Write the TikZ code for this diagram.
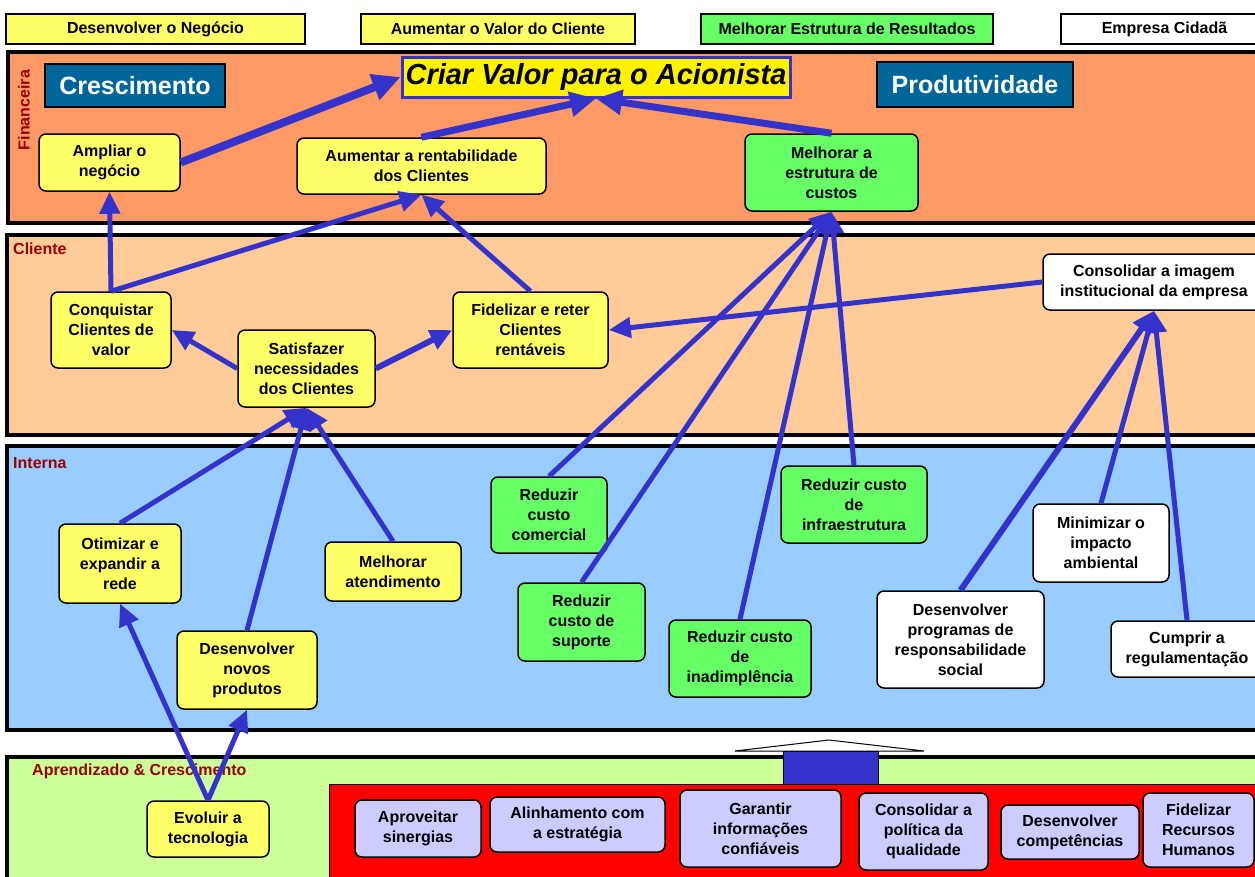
\documentclass[tikz,border=0pt]{standalone}
\usepackage{fontspec}
\setmainfont{Liberation Sans}
\usetikzlibrary{arrows.meta}

\definecolor{orng}{HTML}{FF9966}
\definecolor{peach}{HTML}{FFCC99}
\definecolor{skyb}{HTML}{99CCFF}
\definecolor{lgrn}{HTML}{CCFF99}
\definecolor{ylw}{HTML}{FFFF66}
\definecolor{grn}{HTML}{66FF66}
\definecolor{lav}{HTML}{CCCCFF}
\definecolor{arrblue}{HTML}{3333CC}
\definecolor{petrol}{HTML}{006699}
\definecolor{lblred}{HTML}{990000}

\tikzset{
  box/.style={draw=black, line width=1.5pt, rounded corners=7pt, align=center,
    inner sep=0pt, font=\bfseries\fontsize{16}{20}\selectfont},
  hdr/.style={draw=black, line width=1.5pt, align=center, inner sep=0pt,
    minimum height=30pt, font=\bfseries\fontsize{16}{20}\selectfont},
  sz/.style 2 args={minimum width=#1pt, minimum height=#2pt},
  lane/.style={draw=black, line width=4pt},
  lbl/.style={text=lblred, inner sep=0pt, font=\bfseries\fontsize{16}{18}\selectfont},
  arr/.style={draw=arrblue, line width=5pt, -{Triangle[length=22pt,width=20pt]}},
}

\begin{document}
\begin{tikzpicture}[x=1pt, y=-1pt]
        \useasboundingbox (0,0) rectangle (1255,876);
        \clip (0,0) rectangle (1255,876);

        % Perspective lanes
        \draw[lane, fill=orng] (8,52) rectangle (1265,223);
        \draw[lane, fill=peach] (7,235) rectangle (1265,435);
        \draw[lane, fill=skyb] (7,446) rectangle (1265,730);
        \draw[lane, fill=lgrn] (7,757) rectangle (1265,895);
        \draw[line width=1pt, fill=red] (329,784) rectangle (1265,895);

        \node[lbl, rotate=90] (lfin) at (24,110) {Financeira};
        \node[lbl, anchor=west] (lcli) at (13,249) {Cliente};
        \node[lbl, anchor=west] (lint) at (13,463) {Interna};
        \node[lbl, anchor=west] (lapr) at (32,771) {Aprendizado \& Crescimento};

        % Header boxes
        \node[hdr, fill=ylw, minimum width=299pt] (h1) at (155.5,29) {Desenvolver o Negócio};
        \node[hdr, fill=ylw, minimum width=274pt] (h2) at (498,29) {Aumentar o Valor do Cliente};
        \node[hdr, fill=grn, minimum width=292pt] (h3) at (847,29) {Melhorar Estrutura de Resultados};
        \node[hdr, fill=white, minimum width=207pt] (h4) at (1164.5,29) {Empresa Cidadã};

        % Financeira
        \node[draw=arrblue, line width=3pt, fill=yellow, sz={388}{40}, inner sep=0pt,
          font=\bfseries\itshape\fontsize{29}{32}\selectfont] (criar) at (596,77) {Criar Valor para o Acionista};
        \node[draw=black, line width=2pt, fill=petrol, text=white, sz={180}{43}, inner sep=0pt,
          font=\bfseries\fontsize{25}{28}\selectfont] (cresc) at (135,85.5) {Crescimento};
        \node[draw=black, line width=2pt, fill=petrol, text=white, sz={196}{45}, inner sep=0pt,
          font=\bfseries\fontsize{25}{28}\selectfont] (prod) at (975,84.5) {Produtividade};
        \node[box, fill=ylw, sz={141}{57}] (ampliar) at (109.5,162.5) {Ampliar o\\negócio};
        \node[box, fill=ylw, sz={249}{56}] (rentab) at (421.5,166) {Aumentar a rentabilidade\\dos Clientes};
        \node[box, fill=grn, sz={173}{77}] (custos) at (831.5,172.5) {Melhorar a\\estrutura de\\custos};

        % Cliente
        \node[box, fill=ylw, sz={120}{76}] (conq) at (111,330) {Conquistar\\Clientes de\\valor};
        \node[box, fill=ylw, sz={137}{77}] (satisf) at (306.5,368.5) {Satisfazer\\necessidades\\dos Clientes};
        \node[box, fill=ylw, sz={155}{76}] (fidel) at (530.5,330) {Fidelizar e reter\\Clientes\\rentáveis};
        \node[box, fill=white, sz={222}{56}] (imagem) at (1154,282) {Consolidar a imagem\\institucional da empresa};

        % Interna
        \node[box, fill=ylw, sz={122}{79}] (otim) at (120,563.5) {Otimizar e\\expandir a\\rede};
        \node[box, fill=ylw, sz={140}{78}] (novos) at (247,670) {Desenvolver\\novos\\produtos};
        \node[box, fill=ylw, sz={136}{59}] (atend) at (393,571.5) {Melhorar\\atendimento};
        \node[box, fill=grn, sz={116}{76}] (comerc) at (549,515) {Reduzir\\custo\\comercial};
        \node[box, fill=grn, sz={127}{78}] (suporte) at (581.5,622) {Reduzir\\custo de\\suporte};
        \node[box, fill=grn, sz={146}{77}] (infra) at (854,504.5) {Reduzir custo\\de\\infraestrutura};
        \node[box, fill=grn, sz={142}{77}] (inad) at (740,658.5) {Reduzir custo\\de\\inadimplência};
        \node[box, fill=white, sz={167}{97}] (social) at (960.5,639.5) {Desenvolver\\programas de\\responsabilidade\\social};
        \node[box, fill=white, sz={136}{78}] (ambient) at (1101,543) {Minimizar o\\impacto\\ambiental};
        \node[box, fill=white, sz={152}{56}] (cumprir) at (1187,649) {Cumprir a\\regulamentação};

        % Aprendizado
        \node[box, fill=ylw, sz={122}{56}] (tecno) at (208,829) {Evoluir a\\tecnologia};
        \node[box, fill=lav, sz={126}{57}] (siner) at (418,828.5) {Aproveitar\\sinergias};
        \node[box, fill=lav, sz={175}{55}] (alinh) at (577.5,824.5) {Alinhamento com\\a estratégia};
        \node[box, fill=lav, sz={161}{77}] (garant) at (760.5,828.5) {Garantir\\informações\\confiáveis};
        \node[box, fill=lav, sz={129}{77}] (qualid) at (923.5,831.5) {Consolidar a\\política da\\qualidade};
        \node[box, fill=lav, sz={138}{54}] (compet) at (1070,832) {Desenvolver\\competências};
        \node[box, fill=lav, sz={111}{74}] (rh) at (1198.5,830) {Fidelizar\\Recursos\\Humanos};

        % Block arrow up
        \draw[line width=1pt, fill=arrblue] (783,784) rectangle (878,751);
        \draw[line width=1pt, fill=white] (735,751) -- (829,740) -- (924,751) -- cycle;

        % Cause and effect links
        \draw[arr, line width=8pt, -{Triangle[length=28pt,width=26pt]}] (ampliar.east) -- (criar.west);
        \draw[arr, line width=7pt, -{Triangle[length=26pt,width=24pt]}] (rentab.north) -- (criar.south);
        \draw[arr, line width=7pt, -{Triangle[length=26pt,width=24pt]}] (custos.north) -- (criar.south);
        \draw[arr] (conq.north) -- (ampliar.south);
        \draw[arr] (conq.north) -- (rentab.south);
        \draw[arr] (fidel.north) -- (rentab.south);
        \draw[arr] (satisf.west) -- (conq.east);
        \draw[arr, line width=6pt] (satisf.east) -- (fidel.west);
        \draw[arr] (imagem.west) -- (fidel.east);
        \draw[arr] (otim.north) -- (satisf.south);
        \draw[arr] (novos.north) -- (satisf.south);
        \draw[arr] (atend.north) -- (satisf.south);
        \draw[arr] (comerc.north) -- (custos.south);
        \draw[arr] (suporte.north) -- (custos.south);
        \draw[arr] (inad.north) -- (custos.south);
        \draw[arr] (infra.north) -- (custos.south);
        \draw[arr, line width=6pt] (social.north) -- (imagem.south);
        \draw[arr] (ambient.north) -- (imagem.south);
        \draw[arr] (cumprir.north) -- (imagem.south);
        \draw[arr] (tecno.north) -- (otim.south);
        \draw[arr] (tecno.north) -- (novos.south);
\end{tikzpicture}
\end{document}
